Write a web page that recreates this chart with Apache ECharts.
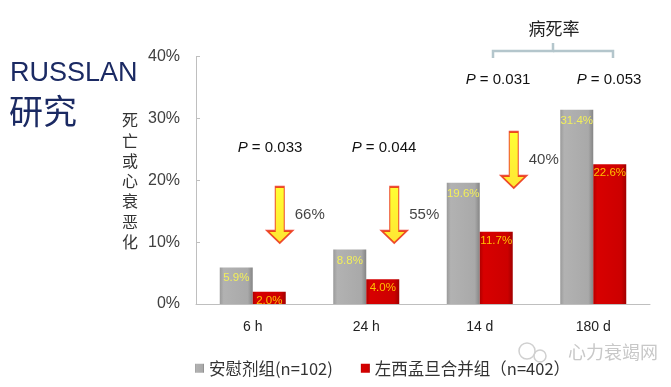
<!DOCTYPE html>
<html><head><meta charset="utf-8">
<script src="https://cdn.jsdelivr.net/npm/echarts@6/dist/echarts.min.js"></script>
<style>html,body{margin:0;padding:0;background:#fff}#c{width:671px;height:387px}</style>
</head><body><div id="c"></div>
<script>
const categories = ['6 h', '24 h', '14 d', '180 d'];
const placebo = [5.9, 8.8, 19.6, 31.4];
const levo = [2.0, 4.0, 11.7, 22.6];
const yTicks = [0, 10, 20, 30, 40];
const seriesNames = ['安慰剂组(n=102)', '左西孟旦合并组（n=402）'];
const reductionCats = ['6 h', '24 h', '14 d'];
const reductionLevels = [14.4, 14.4, 23.3];
const reductionText = ['66%', '55%', '40%'];
const pValues = ['0.033', '0.044', '0.031', '0.053'];

const chart = echarts.init(document.getElementById('c'));
const font = '"Liberation Sans", "Noto Sans CJK SC", sans-serif';
const cjk = '"Noto Sans CJK SC", sans-serif';

const arrowPath = 'path://M8,0 L17,0 L17,44 L25,44 L12.5,56 L0,44 L8,44 Z';
const arrowOffsets = [[27, 0], [28, 0], [34, 0]];
const pRich = { i: { fontStyle: 'italic', fontSize: 15, fontFamily: font, fill: '#111' }, n: { fontSize: 15, fontFamily: font, fill: '#111' } };

chart.setOption({
  animation: false,
  grid: { left: 196, right: 21, top: 56.7, bottom: 83 },
  legend: {
    left: 190, top: 355, itemWidth: 9, itemHeight: 9, itemGap: 28,
    icon: 'rect',
    textStyle: { fontFamily: cjk, fontSize: 16.5, color: '#333' },
    data: seriesNames
  },
  xAxis: {
    type: 'category', data: categories,
    axisLine: { lineStyle: { color: '#bfbfbf' } },
    axisTick: { inside: true, length: 7, lineStyle: { color: '#bfbfbf' } },
    axisLabel: { fontFamily: font, fontSize: 14, color: '#222', margin: 16 }
  },
  yAxis: {
    type: 'value', min: 0, max: 40, interval: 10,
    axisLine: { show: true, lineStyle: { color: '#bfbfbf' } },
    axisTick: { show: true, inside: true, length: 4, lineStyle: { color: '#bfbfbf' } },
    splitLine: { show: false },
    axisLabel: { fontFamily: font, fontSize: 16, color: '#404040', margin: 16,
      formatter: v => yTicks.includes(v) ? v + '%' : '' }
  },
  series: [
    {
      name: seriesNames[0], type: 'bar', data: placebo, barWidth: 33, barGap: '0%',
      itemStyle: {
        color: new echarts.graphic.LinearGradient(0, 0, 1, 0, [
          { offset: 0, color: '#9a9a9a' }, { offset: 0.12, color: '#b2b2b2' },
          { offset: 0.85, color: '#a9a9a9' }, { offset: 1, color: '#858585' }])
      },
      label: { show: true, position: 'insideTop', distance: 5, formatter: p => p.value.toFixed(1) + '%',
        color: '#f2ef5a', fontFamily: font, fontSize: 11.5 }
    },
    {
      name: seriesNames[1], type: 'bar', data: levo, barWidth: 33,
      itemStyle: {
        color: new echarts.graphic.LinearGradient(0, 0, 1, 0, [
          { offset: 0, color: '#b00000' }, { offset: 0.12, color: '#d80000' },
          { offset: 0.85, color: '#cc0000' }, { offset: 1, color: '#a00000' }])
      },
      label: { show: true, position: 'insideTop', distance: 3, formatter: p => p.value.toFixed(1) + '%',
        color: '#ffc000', fontFamily: font, fontSize: 11.5 }
    },
    {
      name: 'arrows', type: 'scatter', silent: true,
      data: reductionCats.map((c, i) => ({
        value: [c, reductionLevels[i]],
        symbolOffset: arrowOffsets[i],
        label: { show: true, position: 'right', distance: 2,
          formatter: reductionText[i], color: '#111', fontFamily: font, fontSize: 15 }
      })),
      symbol: arrowPath, symbolSize: [25, 56],
      itemStyle: {
        color: new echarts.graphic.LinearGradient(0, 0, 0, 1, [
          { offset: 0, color: '#ffff00' }, { offset: 1, color: '#ffe000' }]),
        borderColor: '#e8200c', borderWidth: 1.5
      }
    }
  ],
  graphic: [
    { type: 'text', left: 10, top: 60, style: { text: 'RUSSLAN', font: '27px "Liberation Sans", sans-serif', fill: '#1b2a63' } },
    { type: 'text', left: 9, top: 94, style: { text: '研究', font: '34px "Noto Sans CJK SC", sans-serif', fill: '#1b2a63' } },
    { type: 'text', left: 122, top: 110, style: { text: '死\n亡\n或\n心\n衰\n恶\n化', font: '16px "Noto Sans CJK SC", sans-serif', fill: '#333', lineHeight: 20.3 } },
    { type: 'text', x: 270, y: 148, style: { rich: pRich, text: '{i|P}{n| = ' + pValues[0] + '}', align: 'center', verticalAlign: 'middle' } },
    { type: 'text', x: 384, y: 148, style: { rich: pRich, text: '{i|P}{n| = ' + pValues[1] + '}', align: 'center', verticalAlign: 'middle' } },
    { type: 'text', x: 498, y: 80, style: { rich: pRich, text: '{i|P}{n| = ' + pValues[2] + '}', align: 'center', verticalAlign: 'middle' } },
    { type: 'text', x: 609, y: 80, style: { rich: pRich, text: '{i|P}{n| = ' + pValues[3] + '}', align: 'center', verticalAlign: 'middle' } },
    { type: 'text', x: 554, y: 29, style: { text: '病死率', font: '17px "Noto Sans CJK SC", sans-serif', fill: '#222', align: 'center', verticalAlign: 'middle' } },
    { type: 'polyline', shape: { points: [[493, 58], [493, 51], [553, 51], [553, 43]] }, style: { stroke: '#b4c6cc', lineWidth: 2.5, fill: null } },
    { type: 'polyline', shape: { points: [[553, 51], [613, 51], [613, 58]] }, style: { stroke: '#b4c6cc', lineWidth: 2.5, fill: null } },
    { type: 'text', x: 568, y: 352, style: { text: '心力衰竭网', font: '18px "Noto Sans CJK SC", sans-serif', fill: '#c8c8c8', verticalAlign: 'middle' } },
    { type: 'circle', shape: { cx: 527, cy: 351, r: 8 }, style: { stroke: '#d0d0d0', fill: null, lineWidth: 1.5 } },
    { type: 'circle', shape: { cx: 540, cy: 356, r: 6 }, style: { stroke: '#d0d0d0', fill: null, lineWidth: 1.5 } }
  ]
});
</script></body></html>
